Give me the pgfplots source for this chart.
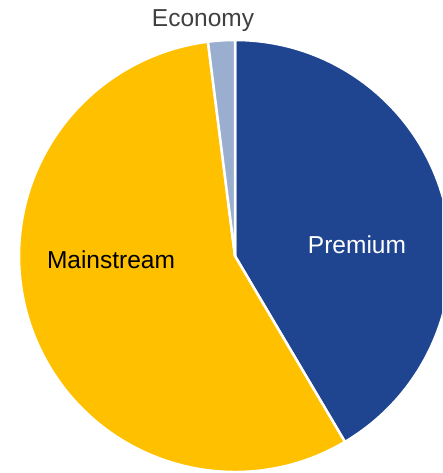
\documentclass[border=0pt]{standalone}
\usepackage{pgfplots}
\usepackage{pgfplotstable}
\pgfplotsset{compat=1.18}
\usepackage{fontspec}
\setmainfont{Liberation Sans}
\definecolor{premium}{HTML}{1F4591}
\definecolor{mainstream}{HTML}{FFC000}
\definecolor{economy}{HTML}{9AAFCF}
\definecolor{lbl}{HTML}{404040}
\pgfplotstableread{
label value
Premium 41.5
Mainstream 56.5
Economy 2.0
}\piedata
\pgfplotstablegetelem{0}{value}\of\piedata \let\vPremium\pgfplotsretval
\pgfplotstablegetelem{1}{value}\of\piedata \let\vMainstream\pgfplotsretval
\pgfplotstablegetelem{2}{value}\of\piedata \let\vEconomy\pgfplotsretval
\pgfmathsetmacro{\aA}{90}
\pgfmathsetmacro{\aB}{90-3.6*\vPremium}
\pgfmathsetmacro{\aC}{\aB-3.6*\vMainstream}
\pgfmathsetmacro{\aD}{\aC-3.6*\vEconomy}
\begin{document}
\begin{tikzpicture}
\begin{axis}[
  width=442pt, height=473pt, scale only axis,
  xmin=0, xmax=442, ymin=0, ymax=473,
  hide axis, clip=true,
]
\fill[premium, draw=white, line width=2.5pt] (axis cs:235,217) -- +(\aA:216pt) arc[start angle=\aA, end angle=\aB, radius=216pt] -- cycle;
\fill[mainstream, draw=white, line width=2.5pt] (axis cs:235,217) -- +(\aB:216pt) arc[start angle=\aB, end angle=\aC, radius=216pt] -- cycle;
\fill[economy, draw=white, line width=2.5pt] (axis cs:235,217) -- +(\aC:216pt) arc[start angle=\aC, end angle=\aD, radius=216pt] -- cycle;
\node[font=\fontsize{24.5}{28}\selectfont, text=white] at (axis cs:357,228) {Premium};
\node[font=\fontsize{24.5}{28}\selectfont, text=black] at (axis cs:111,213) {Mainstream};
\node[font=\fontsize{24.5}{28}\selectfont, text=lbl] at (axis cs:203,452) {Economy};
\end{axis}
\pgfresetboundingbox
\path[use as bounding box] (current axis.south west) rectangle (current axis.north east);
\end{tikzpicture}
\end{document}
